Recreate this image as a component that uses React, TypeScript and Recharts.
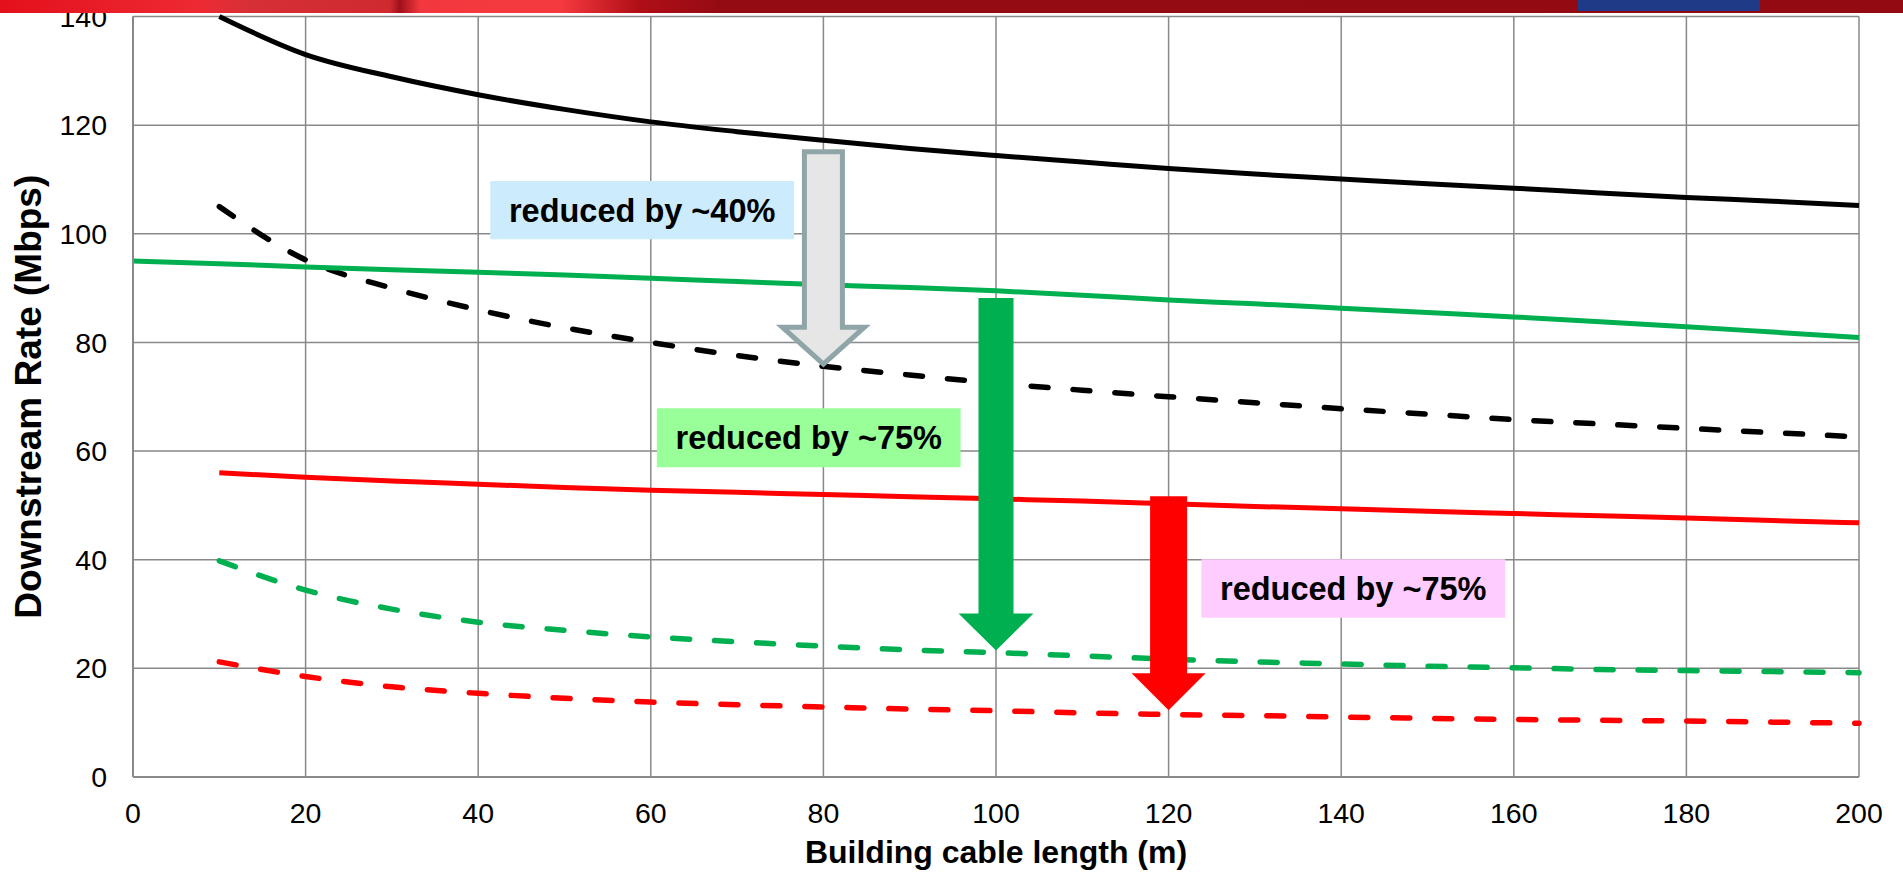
import {
  LineChart,
  Line,
  XAxis,
  YAxis,
  CartesianGrid,
  ReferenceArea,
  ReferenceLine,
} from "recharts";

// Slide-style chart: downstream rate vs building cable length, with
// hand-placed "reduced by" call-outs. Fonts mimic Arial (Liberation Sans).
const FONT = '"Liberation Sans", Arial, sans-serif';
const GRID = "#898989";

const LENGTHS = [0, 10, 20, 30, 40, 50, 60, 70, 80, 90, 100, 110, 120, 130, 140, 150, 160, 170, 180, 190, 200];

const BLACK_SOLID = [null, 140, 133, 128.9, 125.6, 122.9, 120.6, 118.8, 117.2, 115.7, 114.4, 113.2, 112.0, 111.0, 110.1, 109.2, 108.4, 107.5, 106.7, 106.0, 105.2];
const BLACK_DASHED = [null, 105, 95.2, 90, 86, 82.7, 80, 77.6, 75.6, 74, 72.5, 71.2, 70, 68.9, 67.8, 66.8, 65.8, 65, 64.2, 63.4, 62.6];
const GREEN_SOLID = [95, 94.5, 93.9, 93.4, 92.9, 92.4, 91.8, 91.2, 90.6, 90.1, 89.5, 88.7, 87.8, 87.1, 86.3, 85.5, 84.7, 83.8, 82.9, 81.9, 80.9];
const GREEN_DASHED = [null, 39.8, 34.4, 30.9, 28.5, 27.0, 25.8, 24.9, 24.1, 23.4, 22.9, 22.3, 21.7, 21.2, 20.8, 20.4, 20.1, 19.8, 19.6, 19.4, 19.2];
const RED_SOLID = [null, 56, 55.2, 54.5, 53.9, 53.3, 52.8, 52.4, 52.0, 51.6, 51.2, 50.8, 50.3, 49.8, 49.4, 48.9, 48.5, 48.1, 47.7, 47.2, 46.8];
const RED_DASHED = [null, 21.2, 18.5, 16.6, 15.4, 14.5, 13.8, 13.3, 12.9, 12.5, 12.2, 11.8, 11.5, 11.3, 11.05, 10.8, 10.6, 10.45, 10.3, 10.1, 9.9];

const X_TICKS = [0, 20, 40, 60, 80, 100, 120, 140, 160, 180, 200];
const Y_TICKS = [0, 20, 40, 60, 80, 100, 120, 140];

// call-out boxes (data coordinates)
const NOTE_TEXT = ["reduced by ~40%", "reduced by ~75%", "reduced by ~75%"];
const NOTE_X = [[41.4, 76.6], [60.7, 95.9], [123.8, 159]];
const NOTE_Y = [[99.0, 109.7], [57.0, 67.9], [29.3, 40.1]];
const NOTE_FILL = ["#CCEBFD", "#99FF99", "#FFCCFF"];

// arrows: x position, start value, tip value
const ARROW_X = [80, 100, 120];
const ARROW_FROM = [115.1, 88.2, 51.7];
const ARROW_TO = [76.0, 23.3, 12.3];
const ARROW_STYLE = [
  { fill: "#E6E6E6", stroke: "#8FA5A7", strokeWidth: 5, shaft: 19, head: 41, headLen: 37 },
  { fill: "#00B050", stroke: "none", strokeWidth: 0, shaft: 17.5, head: 37.5, headLen: 37 },
  { fill: "#FF0000", stroke: "none", strokeWidth: 0, shaft: 18.5, head: 37, headLen: 37 },
];

const data = LENGTHS.map((x, i) => ({
  x,
  blackSolid: BLACK_SOLID[i],
  blackDashed: BLACK_DASHED[i],
  greenSolid: GREEN_SOLID[i],
  greenDashed: GREEN_DASHED[i],
  redSolid: RED_SOLID[i],
  redDashed: RED_DASHED[i],
}));

function arrowShape(style: (typeof ARROW_STYLE)[number]) {
  return (props: any) => {
    const { x1, y1, y2 } = props;
    const neck = y2 - style.headLen;
    const pts = [
      [x1 - style.shaft, y1],
      [x1 + style.shaft, y1],
      [x1 + style.shaft, neck],
      [x1 + style.head, neck],
      [x1, y2],
      [x1 - style.head, neck],
      [x1 - style.shaft, neck],
    ];
    return (
      <polygon
        points={pts.map((p) => p.join(",")).join(" ")}
        fill={style.fill}
        stroke={style.stroke}
        strokeWidth={style.strokeWidth}
        strokeLinejoin="miter"
      />
    );
  };
}

const YTitle = (props: any) => {
  const vb = props.viewBox ?? { x: 0, y: 16, width: 133, height: 760 };
  const cx = 28;
  const cy = vb.y + vb.height / 2;
  return (
    <text
      x={cx}
      y={cy}
      transform={`rotate(-90, ${cx}, ${cy})`}
      textAnchor="middle"
      dominantBaseline="central"
      fontFamily={FONT}
      fontWeight={700}
      fontSize={37}
      fill="#000"
    >
      Downstream Rate (Mbps)
    </text>
  );
};

const XTitle = (props: any) => {
  const vb = props.viewBox ?? { x: 133, y: 777, width: 1726, height: 96 };
  return (
    <text
      x={vb.x + vb.width / 2}
      y={vb.y + 86}
      textAnchor="middle"
      fontFamily={FONT}
      fontWeight={700}
      fontSize={32}
      fill="#000"
    >
      Building cable length (m)
    </text>
  );
};

const tick = { fill: "#000", fontSize: 28.5, fontFamily: FONT };

export default function App() {
  return (
    <div style={{ position: "absolute", left: 0, top: 0, width: 1903, height: 873, background: "#fff" }}>
      <LineChart width={1903} height={873} data={data} margin={{ top: 16.5, right: 44, left: 0, bottom: 0 }}>
        <CartesianGrid stroke={GRID} strokeWidth={1.5} />
        <XAxis
          dataKey="x"
          type="number"
          domain={[0, 200]}
          ticks={X_TICKS}
          tick={tick}
          tickLine={false}
          tickMargin={20}
          axisLine={{ stroke: GRID, strokeWidth: 2 }}
          height={96}
          label={XTitle}
        />
        <YAxis
          domain={[0, 140]}
          ticks={Y_TICKS}
          tick={tick}
          tickLine={false}
          tickMargin={20}
          axisLine={{ stroke: GRID, strokeWidth: 2 }}
          width={133}
          label={YTitle}
        />
        <Line dataKey="blackSolid" type="monotone" stroke="#000" strokeWidth={5} dot={false} activeDot={false} isAnimationActive={false} />
        <Line dataKey="blackDashed" type="monotone" stroke="#000" strokeWidth={5.5} strokeDasharray="17 25" strokeLinecap="round" dot={false} activeDot={false} isAnimationActive={false} />
        <Line dataKey="greenSolid" type="monotone" stroke="#00B050" strokeWidth={5} dot={false} activeDot={false} isAnimationActive={false} />
        <Line dataKey="greenDashed" type="monotone" stroke="#00B050" strokeWidth={5.5} strokeDasharray="17 25" strokeLinecap="round" dot={false} activeDot={false} isAnimationActive={false} />
        <Line dataKey="redSolid" type="monotone" stroke="#FF0000" strokeWidth={5} dot={false} activeDot={false} isAnimationActive={false} />
        <Line dataKey="redDashed" type="monotone" stroke="#FF0000" strokeWidth={5.5} strokeDasharray="17 25" strokeLinecap="round" dot={false} activeDot={false} isAnimationActive={false} />
        {NOTE_TEXT.map((t, i) => (
          <ReferenceArea
            key={"note" + i}
            x1={NOTE_X[i][0]}
            x2={NOTE_X[i][1]}
            y1={NOTE_Y[i][0]}
            y2={NOTE_Y[i][1]}
            fill={NOTE_FILL[i]}
            fillOpacity={1}
            stroke="none"
            zIndex={1000}
            label={{ value: t, position: "center", fill: "#000", fontSize: 32.5, fontWeight: 700, fontFamily: FONT }}
          />
        ))}
        {ARROW_X.map((x, i) => (
          <ReferenceLine
            key={"arrow" + i}
            segment={[
              { x, y: ARROW_FROM[i] },
              { x, y: ARROW_TO[i] },
            ]}
            zIndex={1000}
            shape={arrowShape(ARROW_STYLE[i])}
          />
        ))}
      </LineChart>
      <div
        style={{
          position: "absolute",
          left: 0,
          top: 0,
          width: 1903,
          height: 13,
          background:
            "linear-gradient(90deg, #E3101B 0px, #EE2A33 200px, #D63036 250px, #CF2A30 390px, #A0101A 400px, #F2383E 420px, #F53A3F 560px, #B00E16 640px, #950B13 720px, #930A12 1903px)",
        }}
      />
      <div style={{ position: "absolute", left: 1578, top: 0, width: 182, height: 11, background: "#1F3A86" }} />
    </div>
  );
}
